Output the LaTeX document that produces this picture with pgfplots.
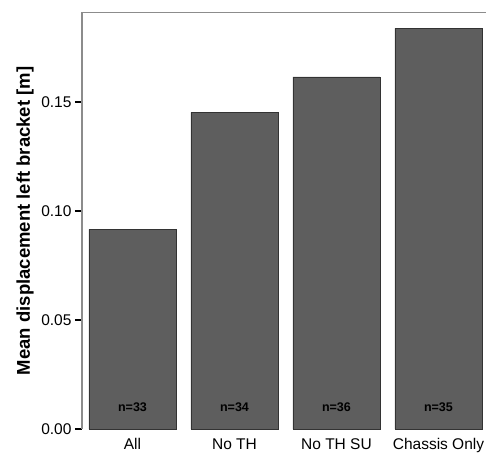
\documentclass[border=0pt]{standalone}
\usepackage{pgfplots}
\pgfplotsset{compat=1.18}
\usepackage{fontspec}
\setmainfont{Liberation Sans}
\definecolor{barc}{HTML}{5E5E5E}
\definecolor{framec}{HTML}{8C8C8C}
\begin{document}
\begin{tikzpicture}
\begin{axis}[
  name=ax,
  scale only axis,
  width=404pt, height=416.3pt,
  xmin=-0.495, xmax=3.466,
  ymin=0, ymax=0.191,
  axis line style={draw=none},
  xtick={0,1,2,3},
  xticklabels={All, No TH, No TH SU, Chassis Only},
  xtick style={draw=none},
  x tick label style={font=\fontsize{15.5}{18}\selectfont, yshift=1pt},
  ytick={0,0.05,0.10,0.15},
  ytick pos=left,
  tick align=outside,
  major tick length=7pt,
  ytick style={black, line width=1.6pt},
  y tick label style={font=\fontsize{15.5}{18}\selectfont, /pgf/number format/fixed, /pgf/number format/fixed zerofill, /pgf/number format/precision=2, /pgf/number format/assume math mode=true},
  scaled y ticks=false,
  ylabel={Mean displacement left bracket [m]},
  every axis y label/.style={at={(rel axis cs:0,0.5)}, xshift=-57pt, rotate=90, anchor=center, font=\bfseries\fontsize{18.5}{21}\selectfont},
  clip=false,
]
\addplot[ybar, bar width=87pt, fill=barc, draw=black!80, line width=0.9pt] coordinates {(0,0.0916) (1,0.1453) (2,0.1615) (3,0.1838)};
\addplot[only marks, mark=none, nodes near coords, point meta=explicit symbolic,
  nodes near coords style={font=\bfseries\fontsize{12.5}{14}\selectfont, anchor=center, text=black}]
  coordinates {(0,0.0102)[n=33] (1,0.0102)[n=34] (2,0.0102)[n=36] (3,0.0102)[n=35]};
\draw[framec, line width=1.4pt] (rel axis cs:0,0) -- (rel axis cs:0,1) -- (rel axis cs:1,1);
\end{axis}
\pgfresetboundingbox
\path[use as bounding box] ([xshift=-82pt, yshift=-24pt]ax.south west) rectangle ([yshift=12.7pt]ax.north east);
\end{tikzpicture}
\end{document}
